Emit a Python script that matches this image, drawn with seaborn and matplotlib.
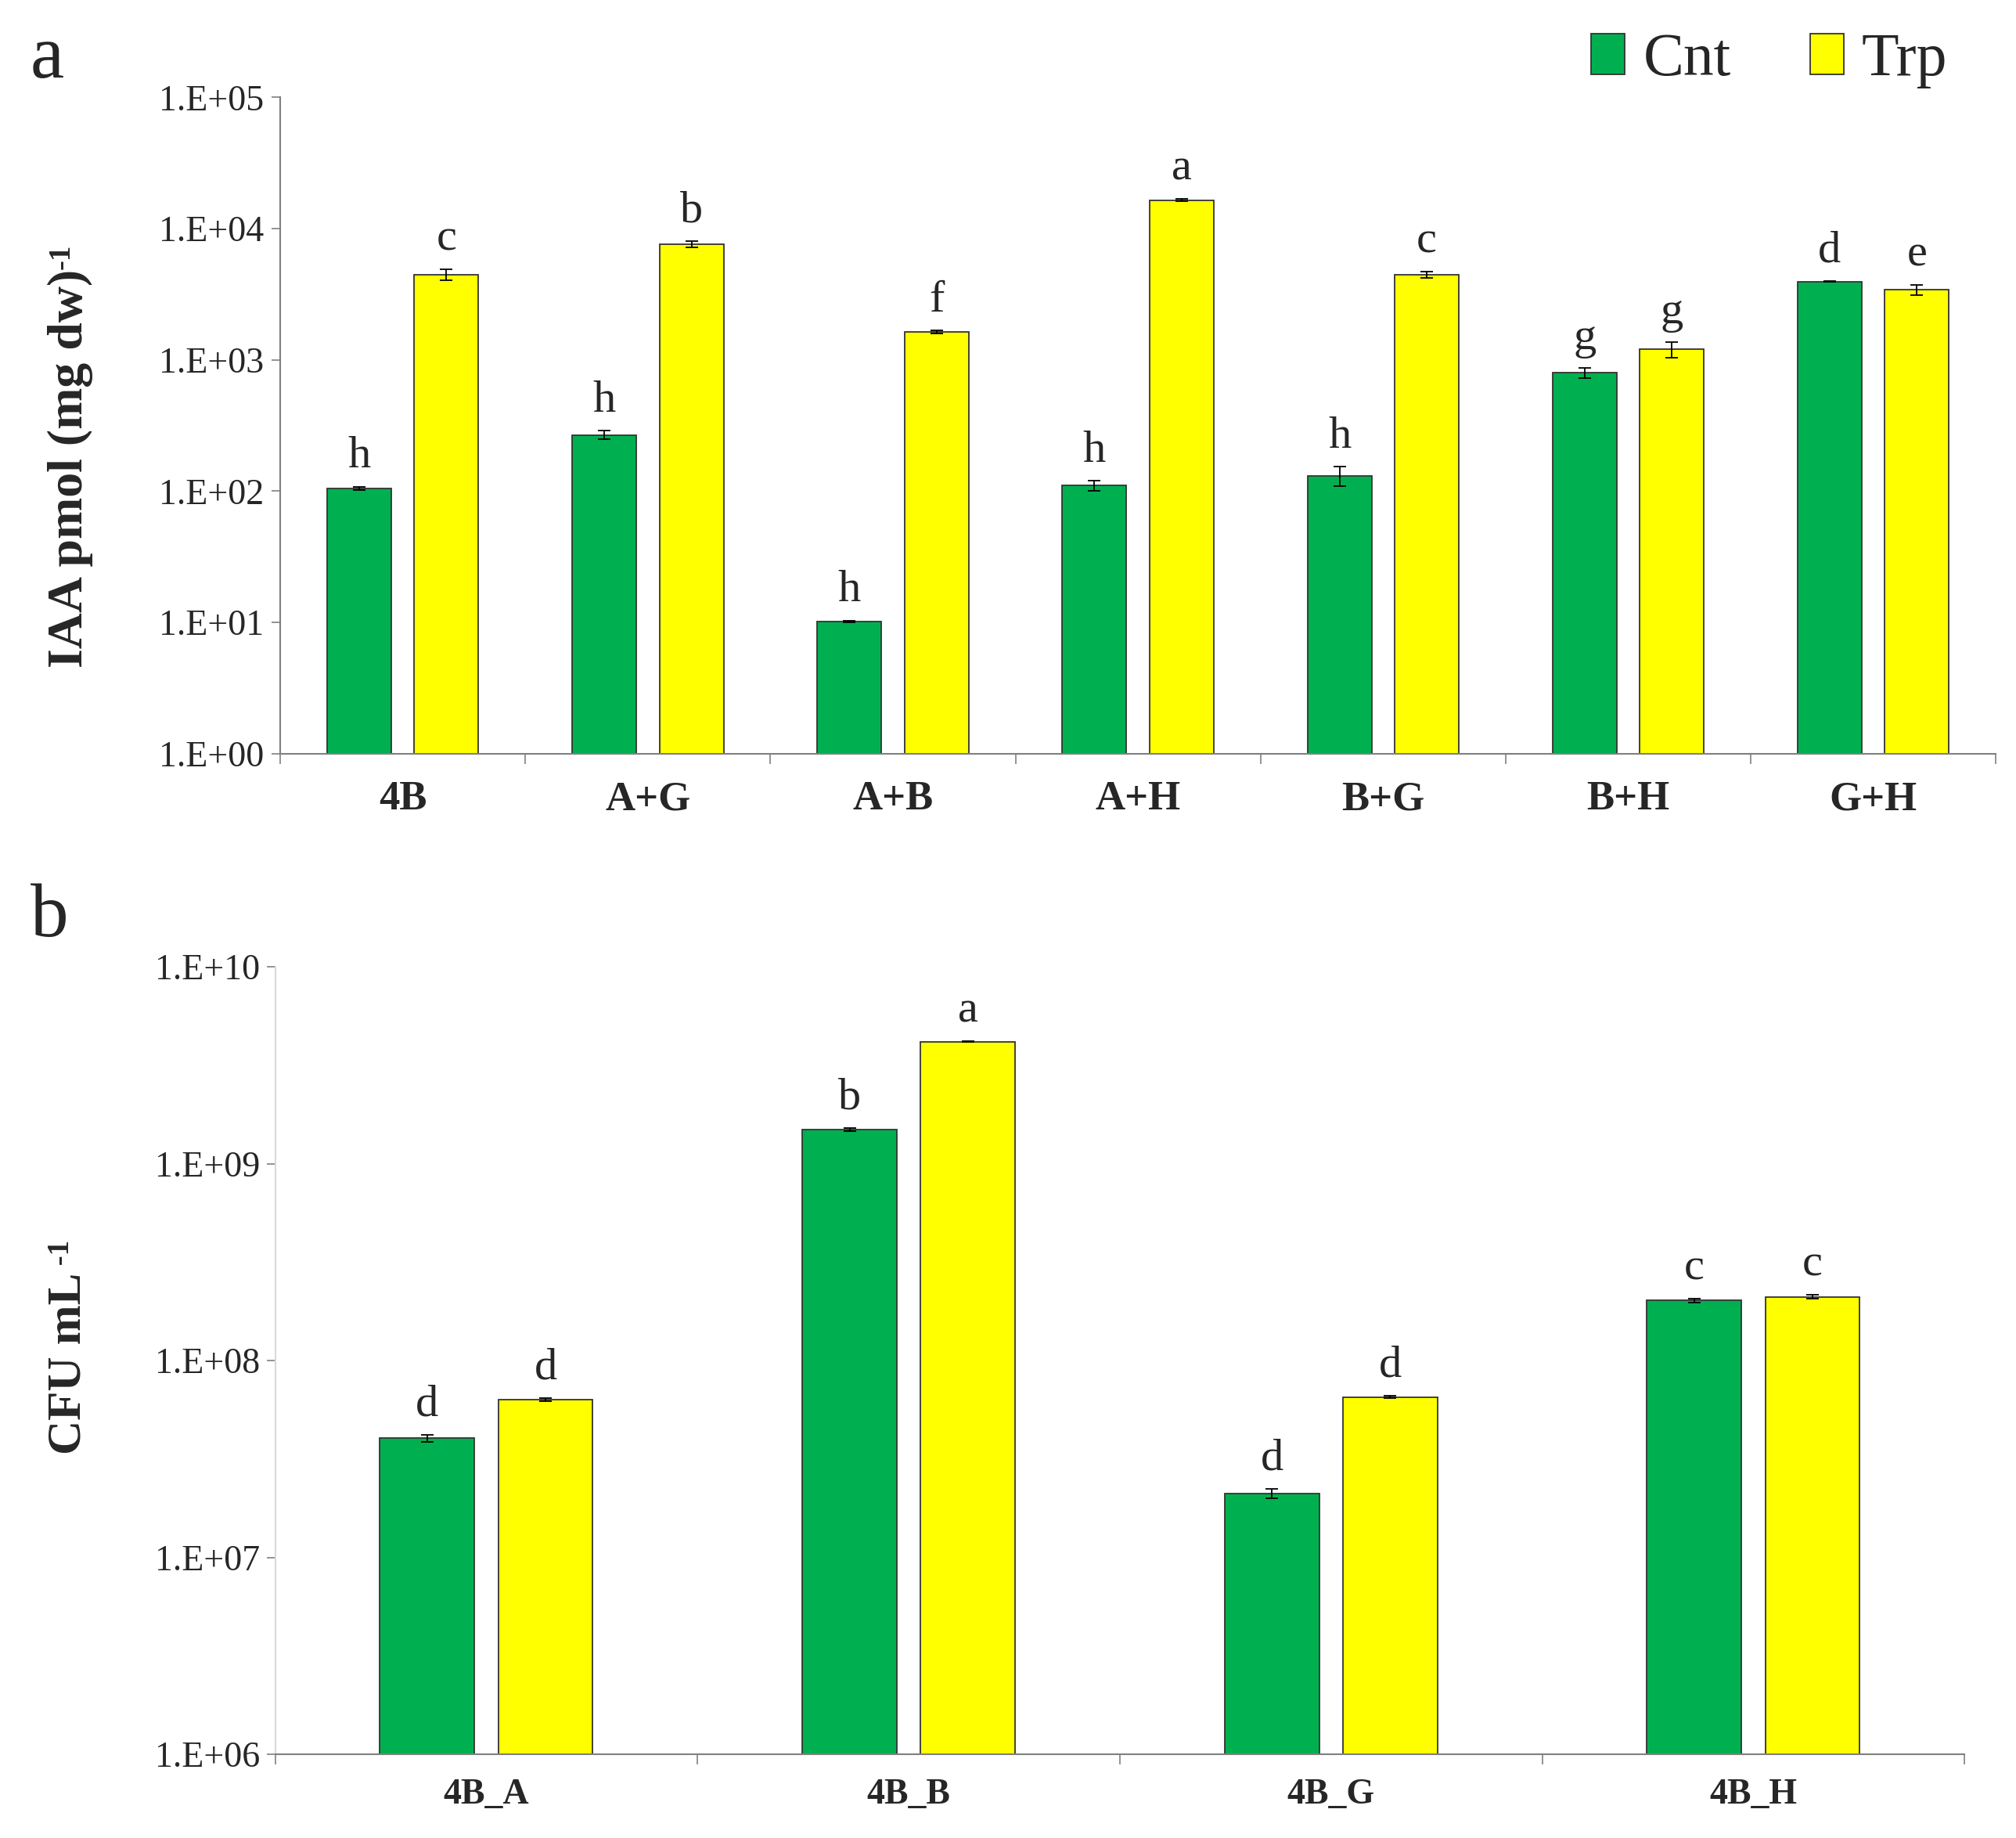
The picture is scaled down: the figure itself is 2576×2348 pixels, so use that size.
import numpy as np
import pandas as pd
import matplotlib
matplotlib.use("Agg")
import matplotlib.pyplot as plt
import seaborn as sns
from matplotlib.patches import Patch
from matplotlib.ticker import FixedLocator, FuncFormatter, NullLocator

# panel a: IAA production
groups_a = ["4B", "A+G", "A+B", "A+H", "B+G", "B+H", "G+H"]
cnt_a = [105, 268, 10.2, 110, 131, 795, 3950]
trp_a = [4470, 7650, 1630, 16500, 4470, 1200, 3420]
cnt_err_a = [3, 20, 0.15, 10, 22, 70, 40]
trp_err_a = [400, 400, 40, 380, 250, 160, 320]
cnt_let_a = ["h", "h", "h", "h", "h", "g", "d"]
trp_let_a = ["c", "b", "f", "a", "c", "g", "e"]

# panel b: CFU counts
groups_b = ["4B_A", "4B_B", "4B_G", "4B_H"]
cnt_b = [4.03e7, 1.49e9, 2.12e7, 2.02e8]
trp_b = [6.34e7, 4.17e9, 6.53e7, 2.11e8]
cnt_err_b = [1.5e6, 2.5e7, 1.2e6, 5e6]
trp_err_b = [1e6, 3e7, 8e5, 5e6]
cnt_let_b = ["d", "b", "d", "c"]
trp_let_b = ["d", "a", "d", "c"]

treatments = ["Cnt", "Trp"]
colors = ["#00B050", "#FFFF00"]

sns.set_style("white")
plt.rcParams["font.family"] = ["Liberation Serif", "DejaVu Serif"]

AXIS_GREY = "#808080"


def draw_panel(ax, groups, cnt, trp, cnt_err, trp_err, cnt_let, trp_let,
               width, gap, decades, xlab_size, xlab_pad, ylab_pad, left_col):
    n = len(groups)
    df = pd.DataFrame({
        "group": groups * 2,
        "treatment": ["Cnt"] * n + ["Trp"] * n,
        "value": cnt + trp,
    })
    sns.barplot(data=df, x="group", y="value", hue="treatment",
                hue_order=treatments, palette=colors, saturation=1,
                width=width, gap=gap, edgecolor="#333333", linewidth=1.3,
                errorbar=None, legend=False, ax=ax)
    ax.set_yscale("log")
    ax.set_ylim(10.0 ** decades[0], 10.0 ** decades[-1])
    ax.set_xlim(-0.5, n - 0.5)

    # error bars + significance letters
    for cont, errs, lets in zip(ax.containers, [cnt_err, trp_err], [cnt_let, trp_let]):
        for bar, e, l in zip(cont, errs, lets):
            x = bar.get_x() + bar.get_width() / 2
            y = bar.get_height()
            ax.errorbar(x, y, yerr=e, color="black", capsize=6,
                        elinewidth=1.3, capthick=1.3)
            ax.annotate(l, (x, y + e), xytext=(0, 9), textcoords="offset points",
                        ha="center", va="bottom", fontsize=42)

    ax.yaxis.set_major_locator(FixedLocator(10.0 ** np.array(decades)))
    ax.yaxis.set_minor_locator(NullLocator())
    ax.yaxis.set_major_formatter(
        FuncFormatter(lambda v, p: f"1.E+{int(round(np.log10(v))):02d}"))
    ax.xaxis.set_minor_locator(FixedLocator(np.arange(-0.5, n, 1)))
    ax.tick_params(axis="x", which="major", length=0, pad=xlab_pad)
    ax.tick_params(axis="x", which="minor", length=9, width=1.2,
                   color=AXIS_GREY, direction="out", bottom=True)
    ax.tick_params(axis="y", which="major", length=8, width=1.2, color=AXIS_GREY,
                   direction="out", left=True, pad=ylab_pad, labelsize=33)
    for lab in ax.get_xticklabels():
        lab.set_fontweight("bold")
        lab.set_fontsize(xlab_size)
    ax.set_xlabel("")
    ax.set_ylabel("")
    for s in ["top", "right"]:
        ax.spines[s].set_visible(False)
    ax.spines["bottom"].set_color(AXIS_GREY)
    ax.spines["bottom"].set_linewidth(1.5)
    ax.spines["left"].set_color(left_col)
    ax.spines["left"].set_linewidth(1.5)


fig = plt.figure(figsize=(25.76, 23.48), dpi=100)
ax_a = fig.add_axes([0.139, 0.590, 0.851, 0.357])
ax_b = fig.add_axes([0.1365, 0.0455, 0.838, 0.4285])

draw_panel(ax_a, groups_a, cnt_a, trp_a, cnt_err_a, trp_err_a, cnt_let_a, trp_let_a,
           width=0.712, gap=0.264, decades=[0, 1, 2, 3, 4, 5],
           xlab_size=38, xlab_pad=25, ylab_pad=7, left_col=AXIS_GREY)
draw_panel(ax_b, groups_b, cnt_b, trp_b, cnt_err_b, trp_err_b, cnt_let_b, trp_let_b,
           width=0.56, gap=0.2, decades=[6, 7, 8, 9, 10],
           xlab_size=33, xlab_pad=22, ylab_pad=6, left_col="#d9d9d9")

# axis titles, with a small "-1" superscript placed after the end of each
ylab_a = fig.text(0.035, 0.745, "IAA pmol (mg dw)", rotation=90,
                  ha="center", va="center", fontsize=46, fontweight="bold")
ax_a.annotate("-1", xy=(0.0, 1.0), xycoords=ylab_a, rotation=90,
              ha="left", va="bottom", fontsize=28, fontweight="bold",
              annotation_clip=False)
ylab_b = fig.text(0.034, 0.258, "CFU mL", rotation=90,
                  ha="center", va="center", fontsize=44, fontweight="bold")
ax_b.annotate(" -1", xy=(0.0, 1.0), xycoords=ylab_b, rotation=90,
              ha="left", va="bottom", fontsize=28, fontweight="bold",
              annotation_clip=False)

# panel letters
fig.text(0.015, 0.958, "a", fontsize=70, ha="left", va="baseline")
fig.text(0.015, 0.4906, "b", fontsize=70, ha="left", va="baseline")

# legend
handles = [Patch(facecolor=c, edgecolor="#333333", linewidth=1.3, label=t)
           for c, t in zip(colors, treatments)]
fig.legend(handles=handles, loc="center right", bbox_to_anchor=(0.966, 0.967),
           ncol=2, frameon=False, fontsize=56, borderpad=0, borderaxespad=0,
           handlelength=0.55, handleheight=0.65, handletextpad=0.3,
           columnspacing=1.3)

fig.savefig("out.png", dpi=100)
